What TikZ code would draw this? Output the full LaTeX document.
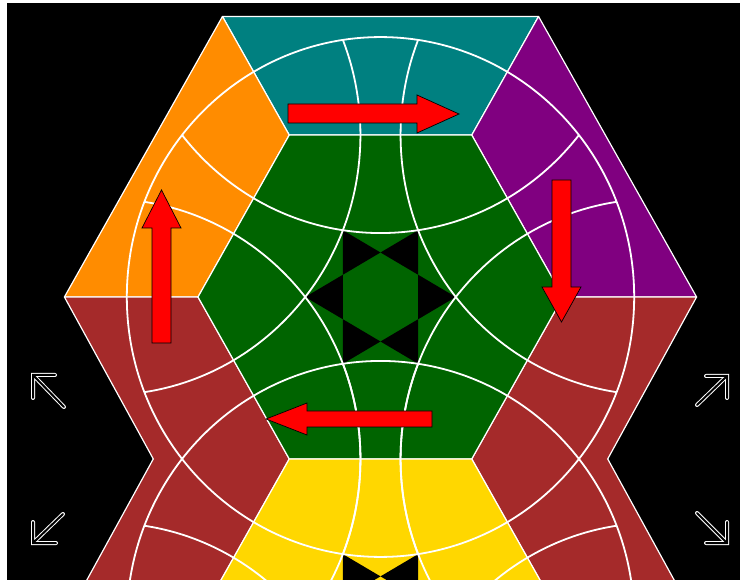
\documentclass[tikz,border=0pt]{standalone}
\usepackage{tikz}
\usetikzlibrary{calc}
\usepackage{xcolor}

\definecolor{tilegreen}{RGB}{0,100,0}
\definecolor{tileteal}{RGB}{0,128,128}
\definecolor{tileorange}{RGB}{255,140,0}
\definecolor{tilepurple}{RGB}{128,0,128}
\definecolor{tilebrown}{RGB}{165,42,42}
\definecolor{tilegold}{RGB}{255,215,0}

\tikzset{
  region/.style={draw=white, line width=1.2pt, line join=round},
  ringarc/.style={white, line width=1.8pt},
  movearrow/.style={fill=red, draw=black, line width=0.7pt, line join=miter},
  cornerarrow/.style={white, line width=1pt, double=black, double distance=2pt, line cap=round, line join=miter},
}

\begin{document}
\begin{tikzpicture}[x=1pt, y=-1pt]
    % 背景
    \useasboundingbox (0,0) rectangle (740,580);
    \fill[white] (0,0) rectangle (740,580);
    \fill[black] (7,3) rectangle (740,580);

    \begin{scope}
    \clip (7,3) rectangle (740,580);
    \begin{scope}[shift={(380.5,297)}, x={(182.5pt,0pt)}, y={(0pt,187pt)}]
        \def\hh{0.866}
        \def\sq{1.732}
        \def\rr{1.39}

        % 外圈六块
        \path[region, fill=tileteal] (-0.866,1.5) -- (0.866,1.5) -- (0.5,\hh) -- (-0.5,\hh) -- cycle;
        \path[region, fill=tileorange] (-0.866,1.5) -- (-0.5,\hh) -- (-1,0) -- (-\sq,0) -- cycle;
        \path[region, fill=tilepurple] (0.866,1.5) -- (0.5,\hh) -- (1,0) -- (\sq,0) -- cycle;
        \path[region, fill=tilebrown] (-\sq,0) -- (-1,0) -- (-0.5,-\hh) -- (-1,-\sq) -- (-\sq,-\sq) -- (-1.245,-\hh) -- cycle;
        \path[region, fill=tilebrown] (\sq,0) -- (1,0) -- (0.5,-\hh) -- (1,-\sq) -- (\sq,-\sq) -- (1.245,-\hh) -- cycle;

        % 中心六边形
        \path[region, fill=tilegreen] (1,0) -- (0.5,\hh) -- (-0.5,\hh) -- (-1,0) -- (-0.5,-\hh) -- (0.5,-\hh) -- cycle;
        \path[region, fill=tilegold] (1,-\sq) -- (0.5,-\hh) -- (-0.5,-\hh) -- (-1,-\sq) -- (-0.5,-2.598) -- (0.5,-2.598) -- cycle;

        % 六角星
        \foreach \cy in {0,-1.732} {
            \foreach \a in {0,60,...,300}
                \fill[black] ($(0,\cy)+(\a:0.412)$) -- ($(0,\cy)+(\a+30:0.238)$) -- ($(0,\cy)+(\a-30:0.238)$) -- cycle;
        }

        % 圆弧
        \draw[ringarc] (0,0) circle[radius=\rr];
        \draw[ringarc] (0,-\sq) circle[radius=\rr];
        \begin{scope}
            \clip (0,0) circle[radius=\rr];
            \foreach \p in {(0,1.732),(1.5,0.866),(-1.5,0.866),(1.5,-0.866),(-1.5,-0.866)}
                \draw[ringarc] \p circle[radius=\rr];
        \end{scope}
        \begin{scope}
            \clip (0,-\sq) circle[radius=\rr];
            \foreach \p in {(1.5,-0.866),(-1.5,-0.866),(1.5,-2.598),(-1.5,-2.598),(0,-3.464)}
                \draw[ringarc] \p circle[radius=\rr];
        \end{scope}
    \end{scope}
    \end{scope}

    % 红色箭头
    \path[movearrow] (288,104) -- (417,104) -- (417,95) -- (459,114) -- (417,133) -- (417,123) -- (288,123) -- cycle;
    \path[movearrow] (552,180) -- (571,180) -- (571,287) -- (581,287) -- (561.5,322) -- (542,287) -- (552,287) -- cycle;
    \path[movearrow] (152,343) -- (171,343) -- (171,228) -- (181,228) -- (161.5,190) -- (142,228) -- (152,228) -- cycle;
    \path[movearrow] (432,411) -- (307,411) -- (307,403) -- (266,419) -- (307,435) -- (307,427) -- (432,427) -- cycle;

    % 角落箭头
    \draw[cornerarrow] (55,375) -- (33,375) -- (33,398) (33,375) -- (64,407);
    \draw[cornerarrow] (33,522) -- (33,543) -- (56,543) (33,543) -- (63,514);
    \draw[cornerarrow] (706,376) -- (727,376) -- (727,398) (727,376) -- (697,405);
    \draw[cornerarrow] (727,522) -- (727,543) -- (706,543) (727,543) -- (697,513);
\end{tikzpicture}
\end{document}
